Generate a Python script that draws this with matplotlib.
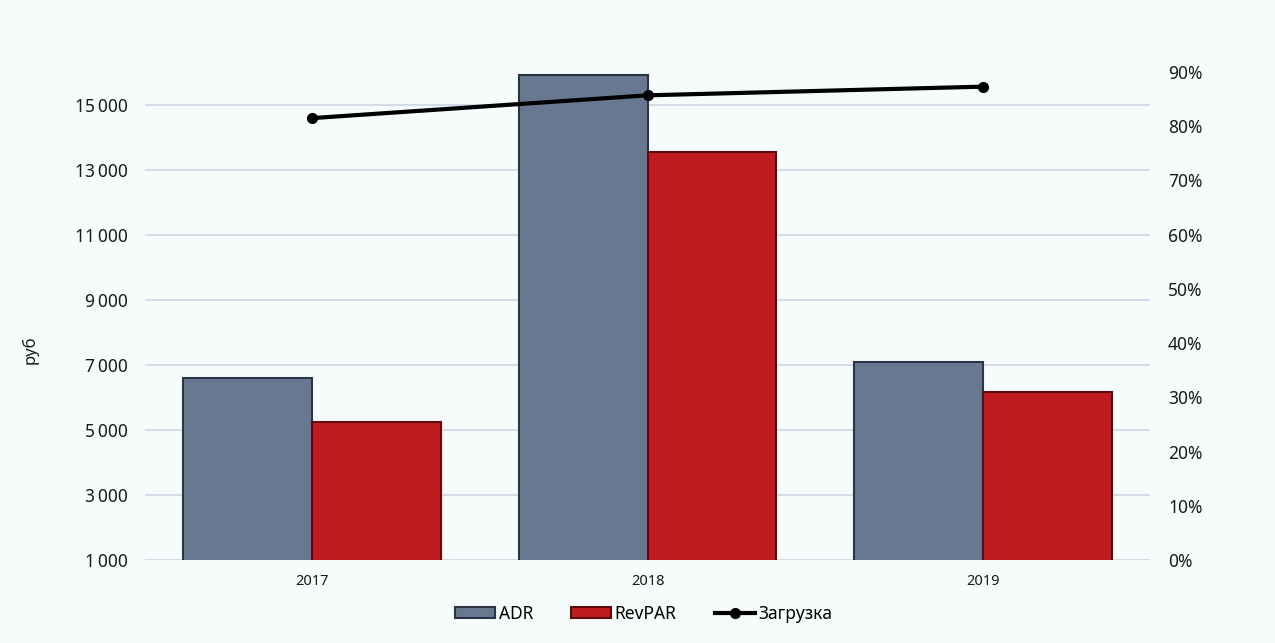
import numpy as np
import matplotlib
matplotlib.use('Agg')
import matplotlib.pyplot as plt
from matplotlib.ticker import FuncFormatter, MultipleLocator

plt.rcParams['font.family'] = ['Noto Sans', 'DejaVu Sans']

years = ['2017', '2018', '2019']
adr = [6600, 15900, 7100]
revpar = [5250, 13550, 6150]
occupancy = [0.815, 0.857, 0.873]

bg = '#f6fbfc'
fig = plt.figure(figsize=(12.75, 6.43), dpi=100, facecolor=bg)
ax = fig.add_axes([0.1137, 0.1291, 0.7883, 0.7589], facecolor=bg)
x = np.arange(len(years))
w = 0.385

b1 = ax.bar(x - w / 2, adr, w, color='#687891', edgecolor='#2c3343', linewidth=1.5, label='ADR', zorder=2)
b2 = ax.bar(x + w / 2, revpar, w, color='#c01c1f', edgecolor='#5e0b0d', linewidth=1.5, label='RevPAR', zorder=2)
ax.set_ylim(1000, 16000)
ax.set_xlim(-0.5, 2.5)
ax.set_yticks(np.arange(1000, 16000, 2000))
ax.yaxis.set_major_formatter(FuncFormatter(lambda v, p: f'{int(v):,}'.replace(',', '\u2009')))
ax.grid(axis='y', color='#cdd6e4', linewidth=1.2, zorder=0)
ax.set_axisbelow(True)
ax.set_xticks(x)
ax.set_xticklabels(years)
ax.tick_params(axis='x', length=0, labelsize=10.5, pad=10, colors='#1a1a1a')
ax.tick_params(axis='y', length=0, labelsize=12.5, pad=12, colors='#1a1a1a')
ax.set_ylabel('руб', fontsize=12, color='#1a1a1a')
ax.yaxis.set_label_coords(-0.106, 0.43)
for s in ax.spines.values():
    s.set_visible(False)

ax2 = ax.twinx()
l1, = ax2.plot(x, occupancy, color='black', lw=3, marker='o', markersize=7, label='Загрузка', zorder=3)
ax2.set_ylim(0, 0.9)
ax2.yaxis.set_major_locator(MultipleLocator(0.1))
ax2.yaxis.set_major_formatter(FuncFormatter(lambda v, p: f'{v * 100:.0f}%'))
ax2.tick_params(axis='y', length=0, labelsize=12.5, pad=13, colors='#1a1a1a')
for s in ax2.spines.values():
    s.set_visible(False)

fig.legend(handles=[b1, b2, l1], loc='center', bbox_to_anchor=(0.505, 0.045), ncol=3,
           frameon=False, fontsize=12.5, handlelength=2.3, handleheight=0.6,
           handletextpad=0.2, columnspacing=2.2)

fig.savefig('out.png', dpi=100, facecolor=bg)
plt.close()
